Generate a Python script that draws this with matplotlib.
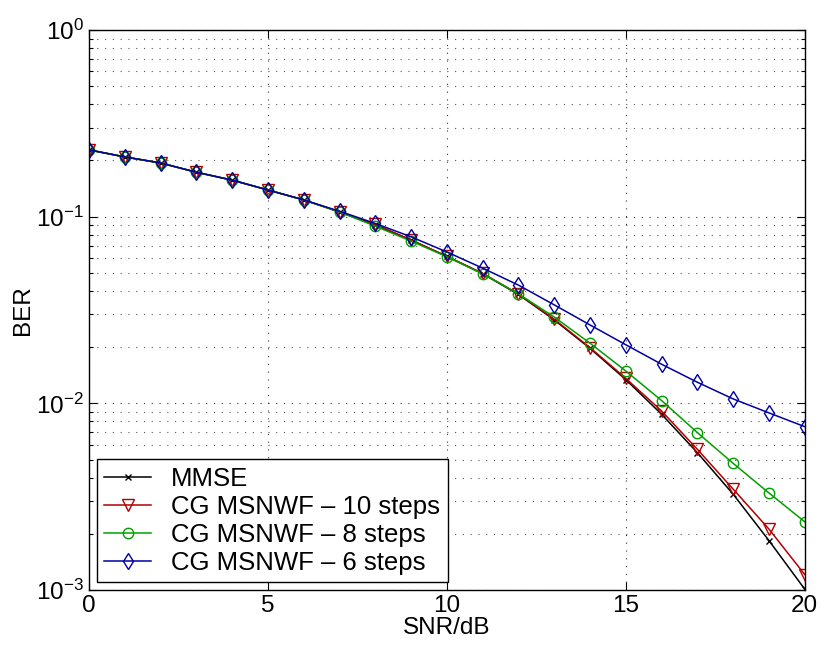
import numpy as np
import matplotlib
matplotlib.use("Agg")
import matplotlib.pyplot as plt
from matplotlib.ticker import LogLocator, NullFormatter

plt.rcParams['font.family'] = ['Liberation Sans', 'DejaVu Sans']
plt.rcParams['mathtext.fontset'] = 'custom'
plt.rcParams['mathtext.rm'] = 'Liberation Sans'

snr = list(range(0, 21))

mmse = [0.228, 0.209, 0.194, 0.173, 0.157, 0.139, 0.123, 0.106, 0.090, 0.075,
        0.0612, 0.0495, 0.0383, 0.0280, 0.0197, 0.0134, 0.00874, 0.00544,
        0.00326, 0.00184, 0.00101]
cg10 = [0.228, 0.209, 0.194, 0.173, 0.157, 0.139, 0.123, 0.106, 0.091, 0.075,
        0.0614, 0.0497, 0.0385, 0.0282, 0.0199, 0.0136, 0.0091, 0.00567,
        0.00347, 0.00212, 0.00121]
cg8 = [0.228, 0.209, 0.194, 0.173, 0.157, 0.139, 0.123, 0.106, 0.089, 0.074,
       0.0610, 0.0494, 0.0386, 0.0290, 0.0210, 0.0149, 0.01035, 0.00697,
       0.00477, 0.00331, 0.00232]
cg6 = [0.228, 0.209, 0.194, 0.173, 0.157, 0.139, 0.123, 0.107, 0.092, 0.078,
       0.0647, 0.0530, 0.0430, 0.0337, 0.0263, 0.0206, 0.0162, 0.01297,
       0.01056, 0.00889, 0.0075]

labels = ['MMSE', 'CG MSNWF \u2013 10 steps', 'CG MSNWF \u2013 8 steps', 'CG MSNWF \u2013 6 steps']
fs = 17.5

fig = plt.figure(figsize=(8.22, 6.5), dpi=100)
ax = fig.add_axes([0.1083, 0.0923, 0.8707, 0.8615])

ax.semilogy(snr, mmse, color='k', marker='x', ms=5, mew=1, lw=1.1, label=labels[0])
ax.semilogy(snr, cg10, color='#b40000', marker='v', ms=8, mfc='none', mew=1, lw=1.1, label=labels[1])
ax.semilogy(snr, cg8, color='#00a000', marker='o', ms=7.5, mfc='none', mew=1, lw=1.1, label=labels[2])
ax.semilogy(snr, cg6, color='#0000a0', marker='d', ms=8.5, mfc='none', mew=1, lw=1.1, label=labels[3])

ax.set_xlim(0, 20)
ax.set_ylim(1e-3, 1)
ax.set_xticks([0, 5, 10, 15, 20])
ax.yaxis.set_major_locator(LogLocator(base=10, numticks=10))
ax.yaxis.set_minor_locator(LogLocator(base=10, subs=np.arange(2, 10), numticks=10))
ax.yaxis.set_minor_formatter(NullFormatter())

ax.grid(True, which='major', linestyle=(0, (1, 6)), color='#333333', lw=0.8)
ax.grid(True, which='minor', axis='y', linestyle=(0, (1, 6)), color='#555555', lw=0.8)

ax.tick_params(which='both', direction='in', top=True, right=True, labelsize=fs)
ax.tick_params(which='major', length=6, width=0.8)
ax.tick_params(which='minor', length=3, width=0.8)
for s in ax.spines.values():
    s.set_linewidth(1.0)

ax.set_xlabel('SNR/dB', fontsize=fs, labelpad=0)
ax.set_ylabel('BER', fontsize=fs, labelpad=2)

leg = ax.legend(loc='lower left', fontsize=18.5, fancybox=False, framealpha=1,
                edgecolor='k', borderaxespad=0.3, handlelength=1.8,
                handletextpad=0.8, borderpad=0.3, labelspacing=0.15)
leg.get_frame().set_linewidth(1.0)

fig.savefig('out.png', dpi=100)
